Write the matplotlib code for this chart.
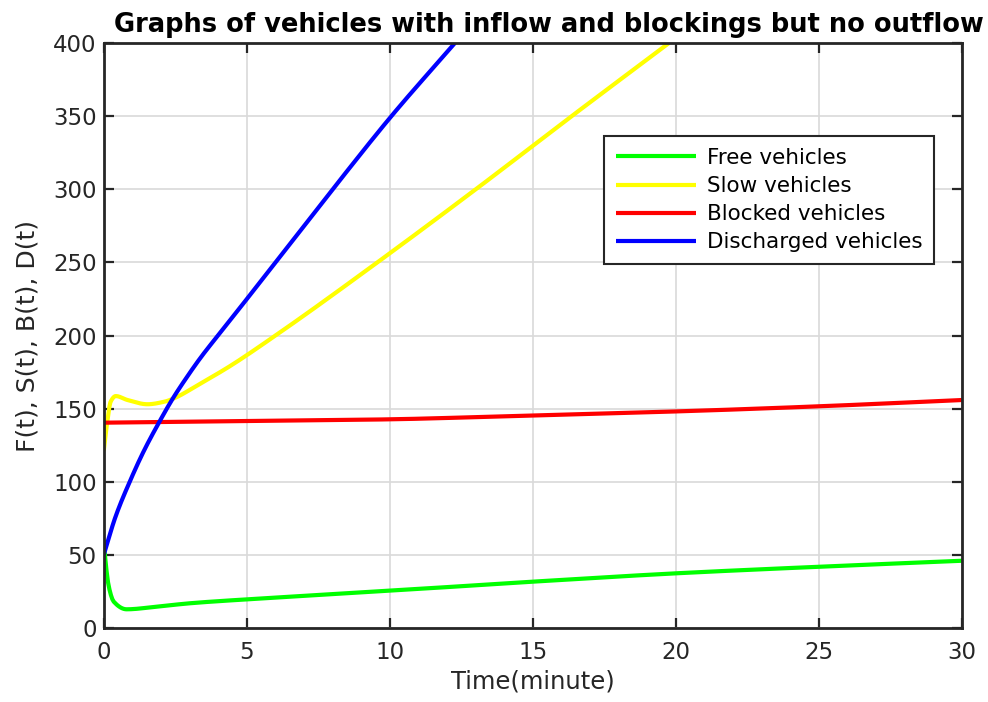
import numpy as np
import matplotlib
matplotlib.use("Agg")
import matplotlib.pyplot as plt

plt.rcParams["font.family"] = ["DejaVu Sans"]

# values
t_free = [0, 0.07, 0.18, 0.35, 0.8, 1.85, 3.0, 5, 6.5, 10, 15, 20, 25, 30]
free = [60, 44, 28, 18, 12.8, 14.6, 16.9, 19.6, 21.4, 25.5, 31.7, 37.4, 41.9, 46]

t_slow = [0, 0.13, 0.24, 0.42, 0.83, 1.53, 2.11, 2.4, 3.39, 4.38, 6.0, 9.7, 13, 16.35, 19.75]
slow = [121, 142, 154.7, 158.6, 155.9, 153, 154.7, 156.6, 167.3, 178.7, 200, 252, 300, 350, 400]

t_block = [0, 5, 10, 15, 20, 25, 30]
blocked = [140.4, 141.5, 142.7, 145.4, 148.1, 151.6, 155.9]

t_disc = [0, 0.41, 0.93, 1.40, 1.93, 2.40, 2.92, 3.39, 4.32, 6.0, 8.0, 10.05, 12.27]
discharged = [50, 76, 101, 121, 140.5, 156.5, 172, 185, 208, 250, 300, 350, 400]

labels = ["Free vehicles", "Slow vehicles", "Blocked vehicles", "Discharged vehicles"]
colors = ["#00ff00", "#ffff00", "#ff0000", "#0000ff"]


def smooth(t, y, n=600):
    # monotone piecewise cubic (PCHIP-like) through the read points
    t = np.asarray(t, float); y = np.asarray(y, float)
    h = np.diff(t); d = np.diff(y) / h
    m = np.zeros_like(y)
    for k in range(1, len(y) - 1):
        if d[k - 1] * d[k] > 0:
            w1 = 2 * h[k] + h[k - 1]; w2 = h[k] + 2 * h[k - 1]
            m[k] = (w1 + w2) / (w1 / d[k - 1] + w2 / d[k])
    m[0] = d[0]; m[-1] = d[-1]
    tt = np.linspace(t[0], t[-1], n)
    idx = np.clip(np.searchsorted(t, tt) - 1, 0, len(h) - 1)
    s = (tt - t[idx]) / h[idx]
    h00 = 2 * s**3 - 3 * s**2 + 1; h10 = s**3 - 2 * s**2 + s
    h01 = -2 * s**3 + 3 * s**2; h11 = s**3 - s**2
    yy = h00 * y[idx] + h10 * h[idx] * m[idx] + h01 * y[idx + 1] + h11 * h[idx] * m[idx + 1]
    return tt, yy


fig = plt.figure(figsize=(9.88, 7.02), dpi=100)
ax = fig.add_axes([0.105, 0.1054, 0.869, 0.8333])

series = [(t_free, free), (t_slow, slow), (t_block, blocked), (t_disc, discharged)]
for (t, y), lab, col in zip(series, labels, colors):
    tt, yy = smooth(t, y)
    ax.plot(tt, yy, color=col, lw=3, label=lab, solid_capstyle="butt")

ax.set_xlim(0, 30)
ax.set_ylim(0, 400)
ax.set_xticks(np.arange(0, 31, 5))
ax.set_yticks(np.arange(0, 401, 50))
ax.grid(True, color="#d9d9d9", lw=1.2)
ax.set_axisbelow(True)
ax.tick_params(direction="in", top=True, right=True, length=7, width=1.6,
               labelsize=16.5, colors="#262626")
ax.tick_params(axis="x", pad=9)
ax.tick_params(axis="y", pad=5)
for sp in ax.spines.values():
    sp.set_linewidth(2)
    sp.set_color("#262626")

ax.set_xlabel("Time(minute)", fontsize=17.5, color="#262626", labelpad=4)
ax.set_ylabel("F(t), S(t), B(t), D(t)", fontsize=18, color="#262626", labelpad=10)
ax.set_title("Graphs of vehicles with inflow and blockings but no outflow",
             fontsize=18.5, fontweight="bold", x=0.519, pad=8)

leg = ax.legend(loc="upper left", bbox_to_anchor=(0.583, 0.841), fontsize=15.5,
                frameon=True, fancybox=False, handlelength=3.7, borderpad=0.55,
                labelspacing=0.38, handletextpad=0.5, borderaxespad=0)
leg.get_frame().set_edgecolor("#262626")
leg.get_frame().set_linewidth(1.5)
leg.get_frame().set_alpha(1)

fig.savefig("out.png", dpi=100)
